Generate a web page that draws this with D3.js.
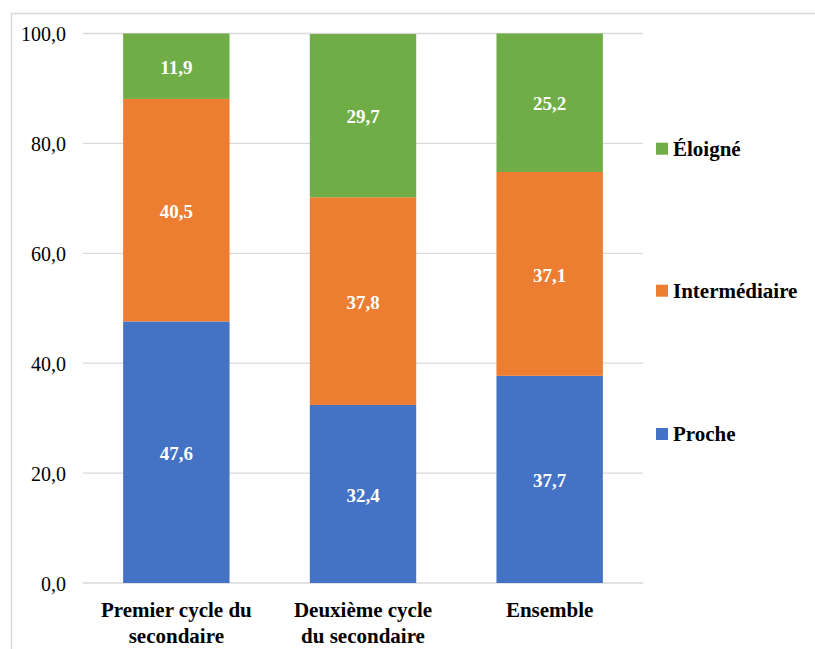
<!DOCTYPE html>
<html>
<head>
<meta charset="utf-8">
<script src="https://cdn.jsdelivr.net/npm/d3@7"></script>
</head>
<body style="margin:0;background:#fff">
<svg id="chart" width="815" height="649" style="display:block"></svg>
<script>
const categories = [["Premier cycle du","secondaire"],["Deuxième cycle","du secondaire"],["Ensemble"]];
const seriesNames = ["Proche","Intermédiaire","Éloigné"];
const proche = [47.6, 32.4, 37.7];
const intermediaire = [40.5, 37.8, 37.1];
const eloigne = [11.9, 29.7, 25.2];
const yTicks = [0,20,40,60,80,100];
const colors = ["#4472C4","#ED7D31","#70AD47"];

const FONT = '"Liberation Serif", "Times New Roman", serif';
const svg = d3.select("#chart");
const pLeft = 83, pRight = 643, pTop = 33.5, pBottom = 583;

function serif(sel, size, bold){
  sel.style("font-family", FONT, "important")
     .style("font-size", size + "px", "important")
     .style("font-weight", bold ? "bold" : "normal", "important");
  return sel;
}

svg.append("rect").attr("x",11.5).attr("y",13.5).attr("width",820).attr("height",650)
  .attr("fill","#fff").attr("stroke","#d9d9d9").attr("stroke-width",1.5);

const x = d3.scaleBand().domain(d3.range(categories.length)).range([pLeft,pRight]).paddingInner(0.43).paddingOuter(0.215);
const y = d3.scaleLinear().domain([0,100]).range([pBottom,pTop]);

svg.append("g").selectAll("line").data(yTicks).join("line")
  .attr("x1",pLeft).attr("x2",pRight)
  .attr("y1",d=>y(d)).attr("y2",d=>y(d))
  .attr("stroke","#d9d9d9").attr("stroke-width",1.3);

const yAxis = d3.axisLeft(y).tickValues(yTicks).tickSize(0).tickPadding(0)
  .tickFormat(d=>d3.format(".1f")(d).replace(".",","));
const ga = svg.append("g").attr("transform","translate(66,0)").call(yAxis);
ga.select(".domain").remove();
serif(ga.selectAll("text").attr("fill","#000").attr("dy","0.35em"), 20, false);

const data = categories.map((c,i)=>({i, Proche:proche[i], "Intermédiaire":intermediaire[i], "Éloigné":eloigne[i]}));
const stack = d3.stack().keys(seriesNames)(data);

const g = svg.append("g");
stack.forEach((layer,k)=>{
  g.append("g").selectAll("rect").data(layer).join("rect")
    .attr("x",d=>x(d.data.i)).attr("width",x.bandwidth())
    .attr("y",d=>y(d[1])).attr("height",d=>y(d[0])-y(d[1]))
    .attr("fill",colors[k]);
});
stack.forEach((layer,k)=>{
  const t = g.append("g").selectAll("text").data(layer).join("text")
    .attr("x",d=>x(d.data.i)+x.bandwidth()/2)
    .attr("y",d=>(y(d[0])+y(d[1]))/2)
    .attr("dy","0.4em")
    .attr("text-anchor","middle")
    .attr("fill","#fff")
    .text(d=>d3.format(".1f")(d[1]-d[0]).replace(".",","));
  serif(t, 19, true);
});

const cl = svg.append("g");
categories.forEach((lines,i)=>{
  const t = cl.append("text")
    .attr("x",x(i)+x.bandwidth()/2).attr("y",617)
    .attr("text-anchor","middle")
    .attr("fill","#000");
  serif(t, 21, true);
  lines.forEach((ln,j)=>{
    t.append("tspan").attr("x",x(i)+x.bandwidth()/2).attr("dy",j===0?0:26).text(ln);
  });
});

const legendY = {"Éloigné":148.7,"Intermédiaire":290.7,"Proche":434};
const lg = svg.append("g");
seriesNames.forEach((s,k)=>{
  lg.append("rect").attr("x",656).attr("y",legendY[s]-6).attr("width",12).attr("height",12).attr("fill",colors[k]);
  const t = lg.append("text").attr("x",673).attr("y",legendY[s]).attr("dy","0.33em")
    .attr("fill","#000").text(s);
  serif(t, 21, true);
});
</script>
</body>
</html>
